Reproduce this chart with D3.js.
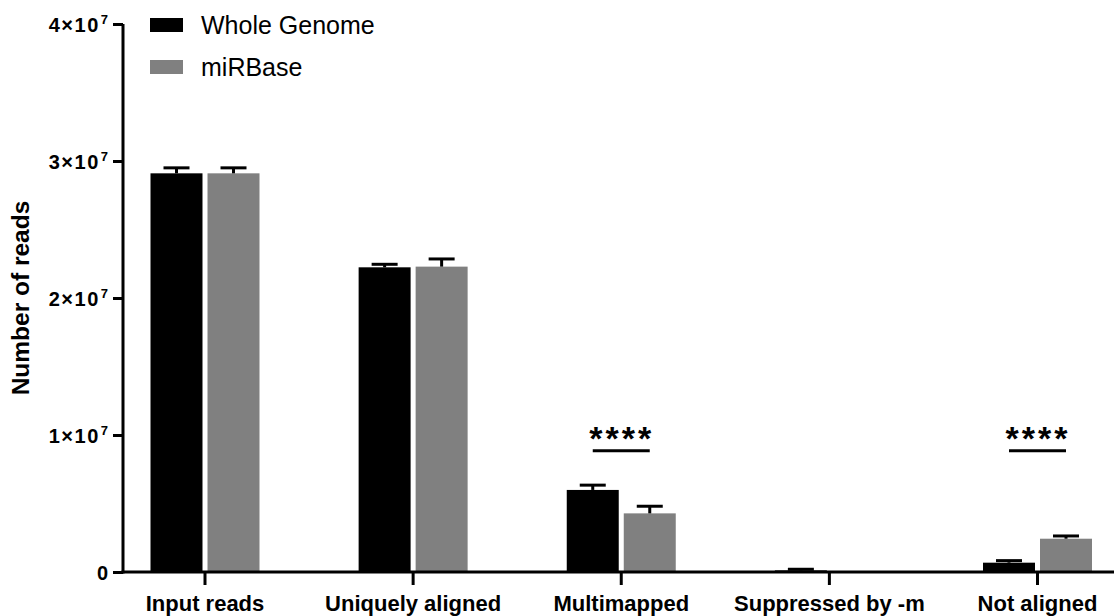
<!DOCTYPE html>
<html>
<head>
<meta charset="utf-8">
<script src="https://cdn.jsdelivr.net/npm/d3@7"></script>
<style>
  body { margin: 0; background: #fff; }
  svg { display: block; font-family: "Liberation Sans", Arial, Helvetica, sans-serif; }
</style>
</head>
<body>
<svg id="chart" width="1114" height="616"></svg>
<script>
const categories = ["Input reads", "Uniquely aligned", "Multimapped", "Suppressed by -m", "Not aligned"];
const seriesNames = ["Whole Genome", "miRBase"];
const wholeGenome = [2.91e7, 2.224e7, 0.599e7, 0.012e7, 0.068e7];
const wholeGenomeErr = [0.04e7, 0.022e7, 0.035e7, 0.008e7, 0.015e7];
const miRBase = [2.91e7, 2.229e7, 0.428e7, 0.0, 0.243e7];
const miRBaseErr = [0.04e7, 0.056e7, 0.052e7, 0.0, 0.02e7];
const yTicks = [0, 1e7, 2e7, 3e7, 4e7];
const seriesColors = ["#000000", "#808080"];
const significance = [{ category: "Multimapped", label: "****", value: 0.89e7 },
                      { category: "Not aligned", label: "****", value: 0.89e7 }];

const svg = d3.select("#chart");
const axisX0 = 123, axisY0 = 572;

const y = d3.scaleLinear().domain([0, 4e7]).range([572, 24]);
const x = d3.scalePoint().domain(categories).range([204.5, 1037]);
const xs = d3.scaleBand().domain(seriesNames).range([-54, 55]).paddingInner(0.088);

const data = [];
categories.forEach((c, i) => {
  data.push({ cat: c, s: seriesNames[0], v: wholeGenome[i], e: wholeGenomeErr[i], col: seriesColors[0] });
  data.push({ cat: c, s: seriesNames[1], v: miRBase[i], e: miRBaseErr[i], col: seriesColors[1] });
});

// bars
svg.append("g").selectAll("rect").data(data).join("rect")
  .attr("x", d => x(d.cat) + xs(d.s))
  .attr("width", xs.bandwidth())
  .attr("y", d => y(d.v))
  .attr("height", d => y(0) - y(d.v))
  .attr("fill", d => d.col);

// error bars (upper only)
const eb = svg.append("g").attr("stroke", "#000").attr("stroke-width", 3);
data.filter(d => d.e > 0).forEach(d => {
  const cx = x(d.cat) + xs(d.s) + xs.bandwidth() / 2;
  eb.append("line").attr("x1", cx).attr("x2", cx).attr("y1", y(d.v)).attr("y2", y(d.v + d.e));
  eb.append("line").attr("x1", cx - 13).attr("x2", cx + 13).attr("y1", y(d.v + d.e)).attr("y2", y(d.v + d.e));
});

// y axis
const yAxis = svg.append("g").attr("transform", `translate(${axisX0},0)`)
  .call(d3.axisLeft(y).tickValues(yTicks).tickSize(10).tickSizeOuter(0).tickFormat(""));
yAxis.select(".domain").attr("stroke-width", 3).attr("d", `M0,${y(4e7)}H0V${axisY0 + 1.5}`);
yAxis.selectAll(".tick line").attr("stroke-width", 3);
yAxis.selectAll(".tick").each(function (d) {
  const t = d3.select(this).append("text")
    .attr("x", -15).attr("dy", "0.36em")
    .attr("text-anchor", "end")
    .attr("fill", "#000")
    .style("font-size", "20px").style("font-weight", "bold");
  if (d === 0) {
    t.text("0");
  } else {
    const m = d / 1e7;
    t.append("tspan").style("letter-spacing", "1.5px").text(m + "×10");
    t.append("tspan").style("font-size", "13px").attr("dy", "-0.6em").attr("dx", 1).text("7");
  }
});

// x axis
const xAxis = svg.append("g").attr("transform", `translate(0,${axisY0})`)
  .call(d3.axisBottom(x).tickSize(13).tickSizeOuter(0));
xAxis.select(".domain").attr("stroke-width", 3).attr("d", `M${axisX0 - 1.5},0H1114`);
xAxis.selectAll(".tick line").attr("stroke-width", 3);
xAxis.selectAll(".tick text")
  .attr("y", 23).attr("dy", "0.71em")
  .attr("fill", "#000").style("font-size", "22px").style("font-weight", "bold");

// y title
svg.append("text")
  .attr("transform", `translate(29,${(y(0) + y(4e7)) / 2}) rotate(-90)`)
  .attr("text-anchor", "middle")
  .style("font-size", "24.5px").style("font-weight", "bold")
  .text("Number of reads");

// significance
significance.forEach(s => {
  const cx = x(s.category);
  const ly = y(s.value) + 0.6;
  svg.append("line").attr("x1", cx - 28).attr("x2", cx + 29).attr("y1", ly).attr("y2", ly)
    .attr("stroke", "#000").attr("stroke-width", 3);
  svg.append("text").attr("x", cx + 1).attr("y", ly - 1)
    .attr("text-anchor", "middle").style("font-size", "34px").style("font-weight", "bold")
    .style("letter-spacing", "3px")
    .text(s.label);
});

// legend
const legend = svg.append("g");
seriesNames.forEach((n, i) => {
  const g = legend.append("g").attr("transform", `translate(150,${25 + i * 42})`);
  g.append("rect").attr("x", 0).attr("y", -7).attr("width", 33).attr("height", 14).attr("fill", seriesColors[i]);
  g.append("text").attr("x", 51).attr("dy", "0.35em").style("font-size", "25px").text(n);
});
</script>
</body>
</html>
